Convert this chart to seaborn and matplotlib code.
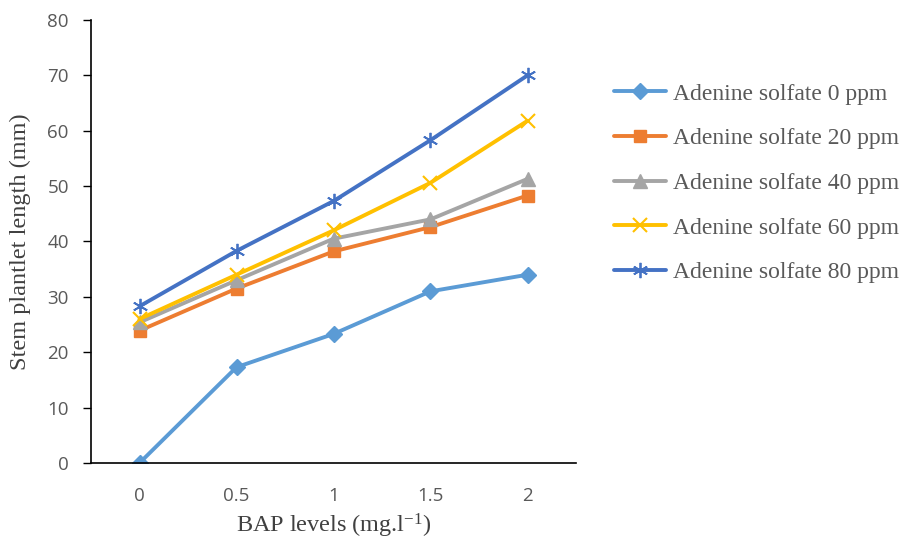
import matplotlib
matplotlib.use("Agg")
import matplotlib.pyplot as plt
import seaborn as sns
import pandas as pd

categories = ["0", "0.5", "1", "1.5", "2"]
series_names = ["Adenine solfate 0 ppm", "Adenine solfate 20 ppm",
                "Adenine solfate 40 ppm", "Adenine solfate 60 ppm",
                "Adenine solfate 80 ppm"]
s0 = [0.0, 17.3, 23.3, 31.0, 34.0]
s20 = [23.9, 31.5, 38.2, 42.6, 48.3]
s40 = [25.4, 33.0, 40.5, 44.0, 51.3]
s60 = [26.0, 34.0, 42.0, 50.6, 61.8]
s80 = [28.3, 38.3, 47.3, 58.3, 70.0]
yticks = [0, 10, 20, 30, 40, 50, 60, 70, 80]

values = [s0, s20, s40, s60, s80]
colors = ["#5B9BD5", "#ED7D31", "#A5A5A5", "#FFC000", "#4472C4"]
markers = ["D", "s", "^", "x", (6, 2, 0)]
msizes = [8.5, 9, 9.5, 10, 11]
mews = [1, 1, 1, 1.5, 1.3]

sns.set_theme(style="white")
plt.rcParams["font.family"] = ["Liberation Serif", "DejaVu Sans"]
plt.rcParams["mathtext.fontset"] = "custom"
plt.rcParams["mathtext.rm"] = "Liberation Serif"
plt.rcParams["mathtext.it"] = "Liberation Serif:italic"

fig = plt.figure(figsize=(9.06, 5.40), dpi=100)
ax = fig.add_axes([91 / 906, 1 - 463 / 540, (576 - 91) / 906, (463 - 20) / 540])

for name, vals, c, m, ms, mew in zip(series_names, values, colors, markers, msizes, mews):
    df = pd.DataFrame({"x": categories, "y": vals})
    sns.lineplot(data=df, x="x", y="y", ax=ax, color=c, marker=m, markersize=ms,
                 markeredgecolor=c, markerfacecolor=c, markeredgewidth=mew,
                 linewidth=2.8, label=name, sort=False)

ax.set_xlim(-0.5, 4.5)
ax.set_ylim(0, 80)
ax.set_yticks(yticks)
ax.set_yticklabels([str(v) for v in yticks], family="Open Sans", fontsize=13.5, color="#595959")
ax.set_xticks(range(len(categories)))
ax.set_xticklabels(categories, family="Open Sans", fontsize=13.5, color="#595959")
ax.tick_params(axis="y", length=6, width=1, color="black", direction="out", left=True, pad=10)
ax.tick_params(axis="x", length=0, pad=17)

for side in ["top", "right"]:
    ax.spines[side].set_visible(False)
for side in ["left", "bottom"]:
    ax.spines[side].set_color("black")
    ax.spines[side].set_linewidth(1.2)

ax.set_xlabel(r"BAP levels (mg.l$^{-1}$)", fontsize=17.5, color="#404040", labelpad=5)
ax.set_ylabel("Stem plantlet length (mm)", fontsize=17.5, color="#404040", labelpad=12)

leg = ax.legend(loc="upper left", bbox_to_anchor=(614 / 906, 1 - 83 / 540),
                bbox_transform=fig.transFigure, frameon=False, fontsize=17,
                handlelength=2.2, labelspacing=0.98, handletextpad=0.3,
                borderaxespad=0, borderpad=0)
for t in leg.get_texts():
    t.set_color("#595959")

fig.savefig("out.png", dpi=100)
